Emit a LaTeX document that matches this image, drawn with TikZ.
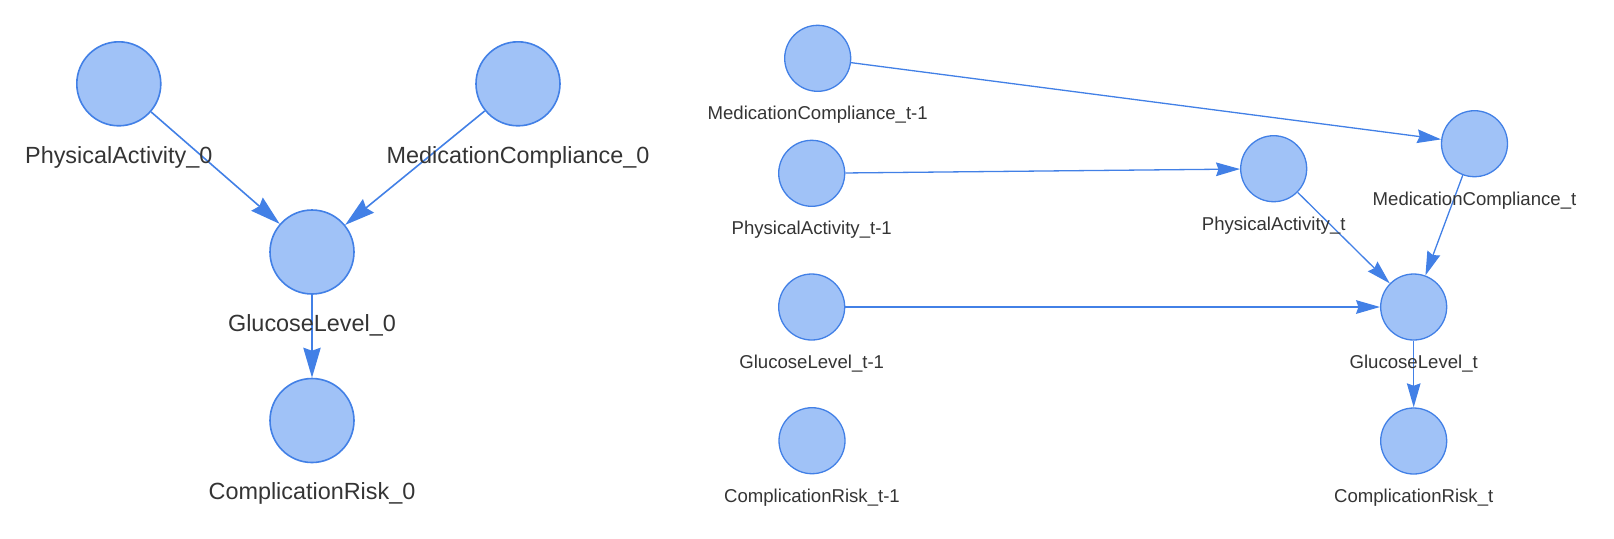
\documentclass[tikz,border=0pt]{standalone}
\usepackage{fontspec}
\setmainfont{Liberation Sans}
\usetikzlibrary{positioning,arrows.meta}
\definecolor{dotfill}{RGB}{160,194,247}
\definecolor{dotline}{RGB}{66,128,230}
\definecolor{labeltext}{RGB}{52,52,52}
\tikzset{
  bigdot/.style={circle,draw=dotline,fill=dotfill,line width=0.8pt,minimum size=42pt,inner sep=0pt},
  smalldot/.style={circle,draw=dotline,fill=dotfill,line width=0.65pt,minimum size=33pt,inner sep=0pt},
  biglabel/.style={text=labeltext,font=\fontsize{11.7}{14}\selectfont,inner sep=0pt,anchor=base},
  smalllabel/.style={text=labeltext,font=\fontsize{9.3}{11}\selectfont,inner sep=0pt,anchor=base},
  bigedge/.style={draw=dotline,line width=0.8pt,-{Stealth[length=15pt,width=8.7pt,inset=1.5pt]}},
  smalledge/.style={draw=dotline,line width=0.65pt,-{Stealth[length=12pt,width=6.8pt,inset=1.2pt]}}
}

\begin{document}
\begin{tikzpicture}[x=0.5pt,y=-0.5pt]
    \useasboundingbox (0,0) rectangle (1614,538);

    % — Time slice 0
    \node[bigdot] (pa0) at (118.8, 83.8) {};
    \node[bigdot] (mc0) at (518.0, 83.8) {};
    \node[bigdot] (gl0) at (312.0,252.0) {};
    \node[bigdot] (cr0) at (312.0,420.5) {};

    \draw[bigedge] (pa0) -- (gl0);
    \draw[bigedge] (mc0) -- (gl0);
    \draw[bigedge] (gl0) -- (cr0);

    \node[below=39.65pt of pa0.center, biglabel] (pa0l) {PhysicalActivity\_0};
    \node[below=39.65pt of mc0.center, biglabel] (mc0l) {MedicationCompliance\_0};
    \node[below=39.65pt of gl0.center, biglabel] (gl0l) {GlucoseLevel\_0};
    \node[below=39.65pt of cr0.center, biglabel] (cr0l) {ComplicationRisk\_0};

    % — Previous slice t-1
    \node[smalldot] (mcp) at (817.7, 58.3) {};
    \node[smalldot] (pap) at (811.7,173.3) {};
    \node[smalldot] (glp) at (811.7,307.0) {};
    \node[smalldot] (crp) at (812.0,440.7) {};

    % — Current slice t
    \node[smalldot] (pat) at (1273.7,168.7) {};
    \node[smalldot] (mct) at (1474.5,143.7) {};
    \node[smalldot] (glt) at (1413.7,307.0) {};
    \node[smalldot] (crt) at (1413.7,441.0) {};

    \draw[smalledge] (mcp) -- (mct);
    \draw[smalledge] (pap) -- (pat);
    \draw[smalledge] (glp) -- (glt);
    \draw[smalledge] (pat) -- (glt);
    \draw[smalledge] (mct) -- (glt);
    \draw[smalledge] (glt) -- (crt);

    \node[below=30.75pt of mcp.center, smalllabel] (mcpl) {MedicationCompliance\_t-1};
    \node[below=30.75pt of pap.center, smalllabel] (papl) {PhysicalActivity\_t-1};
    \node[below=30.75pt of glp.center, smalllabel] (glpl) {GlucoseLevel\_t-1};
    \node[below=30.75pt of crp.center, smalllabel] (crpl) {ComplicationRisk\_t-1};
    \node[below=30.75pt of pat.center, smalllabel] (patl) {PhysicalActivity\_t};
    \node[below=30.75pt of mct.center, smalllabel] (mctl) {MedicationCompliance\_t};
    \node[below=30.75pt of glt.center, smalllabel] (gltl) {GlucoseLevel\_t};
    \node[below=30.75pt of crt.center, smalllabel] (crtl) {ComplicationRisk\_t};
\end{tikzpicture}
\end{document}
